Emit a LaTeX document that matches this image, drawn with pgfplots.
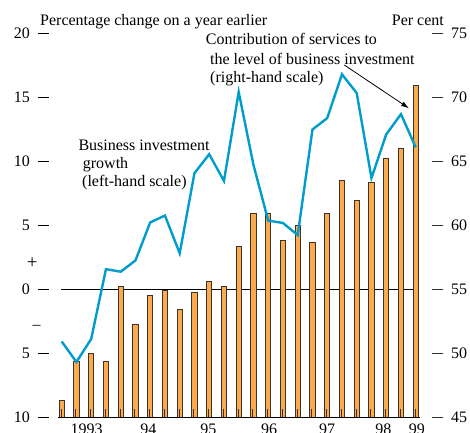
\documentclass[border=0pt]{standalone}
\usepackage{pgfplots}
\pgfplotsset{compat=1.18}
\usepackage{fontspec}
\setmainfont{Liberation Serif}
\usetikzlibrary{calc,arrows.meta}

\definecolor{invblue}{RGB}{0,156,204}
\definecolor{servorange}{RGB}{251,170,76}
\definecolor{baredge}{RGB}{60,50,45}

% quarters 1993 Q1 .. 1999 Q1 plotted at 0..24
\pgfplotstableread{
q growth
0  -4.1
1  -5.7
2  -3.9
3   1.55
4   1.35
5   2.23
6   5.2
7   5.74
8   2.79
9   9.05
10 10.53
11  8.44
12 15.39
13  9.7
14  5.34
15  5.16
16  4.21
17 12.46
18 13.35
19 16.77
20 15.31
21  8.67
22 12.08
23 13.66
24 11.07
}\growthdata

\pgfplotstableread{
q share
0  46.3
1  49.3
2  50.0
3  49.3
4  55.2
5  52.2
6  54.5
7  54.9
8  53.4
9  54.7
10 55.55
11 55.2
12 58.3
13 60.9
14 60.9
15 58.8
16 60.0
17 58.6
18 60.9
19 63.5
20 61.9
21 63.3
22 65.2
23 66.0
24 70.9
}\sharedata

\pgfplotsset{
  bothaxes/.style={
    scale only axis, width=405pt, height=384pt,
    xmin=-1.586, xmax=25.87,
    axis line style={draw=none},
    tick align=inside,
    major tick length=11pt,
    tick label style={font=\fontsize{16}{19}\selectfont},
  }
}

\begin{document}
\begin{tikzpicture}[font=\fontsize{16}{19}\selectfont]

% right-hand scale: services share (bars)
\begin{axis}[bothaxes, name=main,
    ymin=45, ymax=75,
    axis on top,
    tick style={baredge, line width=0.9pt},
    xtick pos=left, ytick pos=right, yticklabel pos=right,
    xtick={-0.05,0.95,1.95,2.95,3.95,4.95,5.95,6.95,7.95,8.95,9.95,10.95,11.95,12.95,13.95,14.95,15.95,16.95,17.95,18.95,19.95,20.95,21.95,22.95,23.95},
    xticklabels={},
    major tick length=8pt,
    ytick={45,50,55,60,65,70,75},
    yticklabels={45,50,55,60,65,70,75},
    minor ytick={45,50,55,60,65,70,75},
    minor tick length=11pt,
    yticklabel style={xshift=4.4pt},
  ]
  \draw[black, line width=0.9pt] (axis cs:-0.05,55) -- (axis cs:23.9,55);
  \addplot[ybar, bar width=0.36, fill=servorange, draw=baredge, line width=1pt]
    table[x=q, y=share] {\sharedata};
  \draw[black, line width=1pt] (axis cs:-0.23,45) -- (axis cs:24.3,45);
\end{axis}

% left-hand scale: business investment growth (line)
\begin{axis}[bothaxes,
    ymin=-10, ymax=20, clip=false,
    xtick pos=left, ytick pos=left,
    xtick={1.69,5.87,9.94,14.06,17.99,21.8,24.07},
    xticklabels={1993,94,95,96,97,98,99},
    xtick style={draw=none},
    xticklabel style={yshift=-3pt},
    tick style={black, line width=0.9pt},
    ytick={-10,-5,0,5,10,15,20},
    yticklabels={10,5,0,5,10,15,20},
    yticklabel style={xshift=-5pt},
  ]
  \addplot[invblue, line width=2.4pt, line join=miter, mark=none]
    table[x=q, y=growth] {\growthdata};
\end{axis}

% annotations, placed in picture pixels
\begin{scope}[shift={($(main.north west)+(-38.3pt,33pt)$)}, x=1pt, y=-1pt]
  \node[anchor=base west, inner sep=0pt] at (40,26) {Percentage change on a year earlier};
  \node[anchor=base west, inner sep=0pt] at (391.7,26) {Per cent};
  \node[anchor=base west, inner sep=0pt] at (205.7,45) {Contribution of services to};
  \node[anchor=base west, inner sep=0pt] at (210,64) {the level of business investment};
  \node[anchor=base west, inner sep=0pt] at (210,82.7) {(right-hand scale)};
  \node[anchor=base west, inner sep=0pt] at (78.3,150) {Business investment};
  \node[anchor=base west, inner sep=0pt] at (82.7,168.3) {growth};
  \node[anchor=base west, inner sep=0pt] at (82,186.7) {(left-hand scale)};
  \node[inner sep=0pt, font=\fontsize{19}{20}\selectfont] at (32.3,262.7) {+};
  \node[inner sep=0pt] at (36.7,327.7) {–};
  \draw[-{Latex[length=8pt,width=5pt]}, line width=0.8pt] (344.3,65) -- (409,108.3);
\end{scope}

\pgfresetboundingbox
\path ($(main.south west)+(-38.3pt,-15pt)$) rectangle ($(main.north east)+(26.7pt,33pt)$);
\end{tikzpicture}
\end{document}
